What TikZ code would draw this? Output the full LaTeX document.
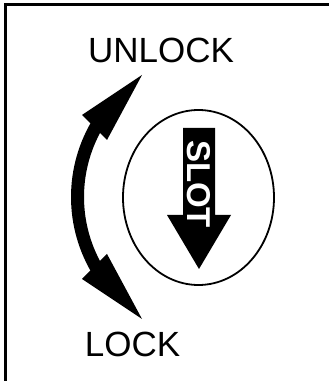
\documentclass[tikz,border=0pt]{standalone}
\usepackage{fontspec}
\setmainfont{Liberation Sans}
\usetikzlibrary{shapes.geometric}
\begin{document}
\begin{tikzpicture}[x=1pt,y=1pt,
  frameline/.style={line width=3pt},
  label/.style={inner sep=0pt, font=\fontsize{35}{35}\selectfont},
  headfill/.style={fill=black, draw=none}]
\useasboundingbox (0,0) rectangle (329,381);
% frame (top and left only)
\coordinate (ftl) at (5.5,376.5);
\coordinate (ftr) at (329,376.5);
\coordinate (fbl) at (5.5,0);
\draw[frameline] (ftr) -- (ftl) -- (fbl);
% labels
\node[label] (unlock) at (161,330.5) {UNLOCK};
\node[label] (lock) at (132.5,36.5) {LOCK};
% curved double arrow
\coordinate (ac) at (220,184);
\draw[line width=13pt] ([shift={(148:142.5)}]ac) arc[start angle=148, end angle=212, radius=142.5];
\fill[headfill] (142,306) -- (82,266) -- (107,241) -- cycle;
\fill[headfill] (142,62) -- (82,102) -- (107,127) -- cycle;
% ellipse
\node[draw, line width=1.8pt, ellipse, minimum width=151pt, minimum height=175pt, inner sep=0pt] (dial) at (198.5,183.5) {};
% slot arrow
\fill[headfill] (183,253) -- (215,253) -- (215,166) -- (231,166) -- (199,112) -- (167,166) -- (183,166) -- cycle;
\node[inner sep=0pt, text=white, rotate=-90, font=\bfseries\fontsize{33}{33}\selectfont] (slot) at (199,197) {SLOT};
\end{tikzpicture}
\end{document}
